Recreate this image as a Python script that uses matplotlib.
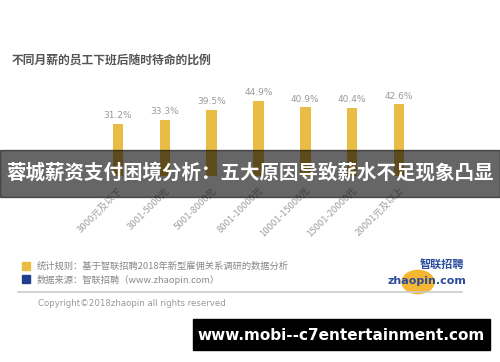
import matplotlib
matplotlib.use('Agg')
import matplotlib.pyplot as plt
from matplotlib.patches import Rectangle, Circle

plt.rcParams['font.family'] = ['Noto Sans CJK SC', 'DejaVu Sans']

# 数据
categories = ['3000元及以下', '3001-5000元', '5001-8000元', '8001-10000元',
              '10001-15000元', '15001-20000元', '20001元及以上']
values = [31.2, 33.3, 39.5, 44.9, 40.9, 40.4, 42.6]

title = '不同月薪的员工下班后随时待命的比例'
banner = '蓉城薪资支付困境分析：五大原因导致薪水不足现象凸显'
note1 = '统计规则：基于智联招聘2018年新型雇佣关系调研的数据分析'
note2 = '数据来源：智联招聘（www.zhaopin.com）'
copyright_txt = 'Copyright©2018zhaopin all rights reserved'
watermark = 'www.mobi--c7entertainment.com'

W, H = 500, 362
fig = plt.figure(figsize=(W / 100, H / 100), dpi=100)
fig.patch.set_facecolor('white')

def fx(px):
    return px / W

def fy(py):
    return 1 - py / H

# 柱状图
ax = fig.add_axes([fx(94.5), fy(176), fx(328), 84 / H])
x = list(range(len(categories)))
bars = ax.bar(x, values, width=0.22, color='#E9BD45')
for rect, v in zip(bars, values):
    ax.text(rect.get_x() + rect.get_width() / 2, v + 2.2, '%.1f%%' % v,
            ha='center', va='bottom', fontsize=6.5, color='#9a9a9a',
            family='DejaVu Sans')
ax.set_xlim(-0.5, 6.5)
ax.set_ylim(0, 50)
ax.set_xticks(x)
ax.set_xticklabels(categories, rotation=45, ha='right', rotation_mode='anchor',
                   fontsize=6.8, color='#a0a0a0')
ax.tick_params(axis='x', length=0, pad=7)
ax.set_yticks([])
for s in ax.spines.values():
    s.set_visible(False)

# 标题
fig.text(fx(12), fy(60), title, fontsize=8.5, color='#555555', fontweight='bold',
         va='center', ha='left')

# 图例说明
fig.patches.append(Rectangle((fx(22), fy(270)), fx(8), 8 / H, transform=fig.transFigure,
                             color='#E9BD45'))
fig.patches.append(Rectangle((fx(22), fy(283)), fx(8), 8 / H, transform=fig.transFigure,
                             color='#1F3F8F'))
fig.text(fx(37), fy(266), note1, fontsize=6.7, color='#888888', va='center')
fig.text(fx(37), fy(280), note2, fontsize=6.7, color='#888888', va='center')
fig.add_artist(plt.Line2D([fx(18), fx(462)], [fy(292), fy(292)], color='#cccccc', lw=1.2))
fig.text(fx(38), fy(304), copyright_txt, fontsize=6.2, color='#999999', va='center',
         family='DejaVu Sans')

# logo
fig.patches.append(Circle((fx(418), fy(282)), 0.032, transform=fig.transFigure,
                          color='#F5B731', zorder=1))
fig.text(fx(420), fy(265), '智联招聘', fontsize=8, color='#2B4C9B', fontweight='bold',
         style='italic', va='center', ha='left', zorder=3)
fig.text(fx(388), fy(281), 'zhaopin.com', fontsize=8, color='#2B4C9B', fontweight='bold',
         va='center', ha='left', family='DejaVu Sans', zorder=3)

# 半透明横幅
fig.patches.append(Rectangle((0, fy(197)), 1, 47 / H, transform=fig.transFigure,
                             color='black', alpha=0.6, zorder=10))
fig.text(0.5, fy(173), banner, fontsize=14, color='white', fontweight='bold',
         ha='center', va='center', zorder=11)

# 水印
fig.patches.append(Rectangle((fx(193), fy(350)), fx(297), 31 / H, transform=fig.transFigure,
                             color='black', zorder=10))
fig.text(fx(341), fy(335), watermark, fontsize=11, color='white', fontweight='bold',
         ha='center', va='center', family='DejaVu Sans', zorder=11)

fig.savefig('out.png', dpi=100)
